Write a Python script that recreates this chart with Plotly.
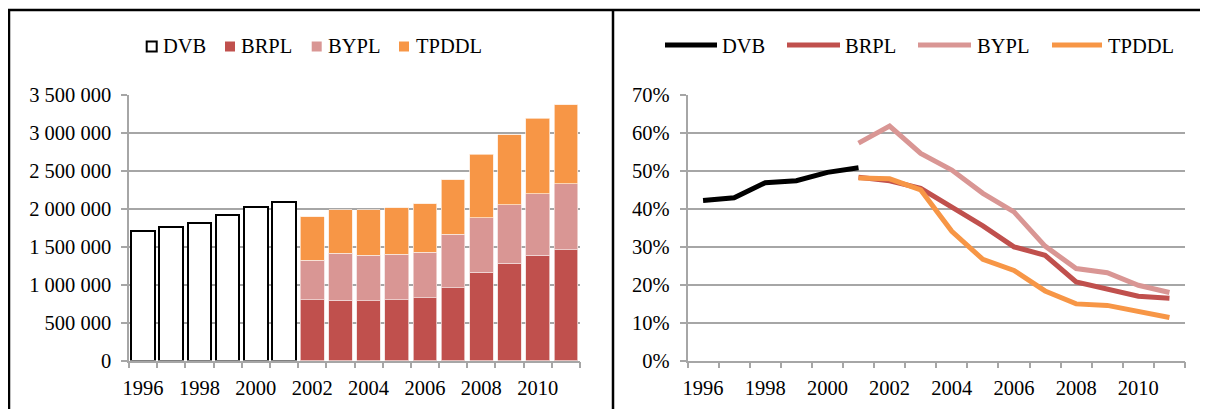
import plotly.graph_objects as go

# ---- data ----
dvb_years = [1996, 1997, 1998, 1999, 2000, 2001]
dvb_consumers = [1708000, 1757000, 1814000, 1920000, 2017000, 2092000]

disc_years = [2002, 2003, 2004, 2005, 2006, 2007, 2008, 2009, 2010, 2011]
brpl_consumers = [801000, 793000, 788000, 801000, 828000, 955000, 1158000, 1277000, 1383000, 1457000]
bypl_consumers = [520000, 620000, 599000, 599000, 599000, 709000, 718000, 775000, 814000, 868000]
tpddl_consumers = [572000, 573000, 594000, 612000, 638000, 714000, 836000, 920000, 991000, 1039000]

dvb_loss = [42.1, 42.8, 46.8, 47.3, 49.5, 50.7]
loss_years = [2001, 2002, 2003, 2004, 2005, 2006, 2007, 2008, 2009, 2010, 2011]
brpl_loss = [48.2, 47.3, 45.3, 40.5, 35.4, 29.9, 27.7, 20.7, 18.9, 16.9, 16.4]
bypl_loss = [57.2, 61.7, 54.5, 50.1, 44.0, 39.1, 30.1, 24.2, 23.1, 19.8, 17.9]
tpddl_loss = [48.0, 47.8, 44.9, 34.0, 26.6, 23.7, 18.3, 14.9, 14.5, 13.0, 11.3]

series_names = ["DVB", "BRPL", "BYPL", "TPDDL"]
tick_years = [1996, 1998, 2000, 2002, 2004, 2006, 2008, 2010]
boundaries = [y - 0.5 for y in range(1996, 2013)]
left_ticks = [0, 500000, 1000000, 1500000, 2000000, 2500000, 3000000, 3500000]
right_ticks = [0, 10, 20, 30, 40, 50, 60, 70]
right_ticktext = [f"{v}%" for v in right_ticks]

# ---- colours ----
C_BRPL = "#C0504D"
C_BYPL = "#D99694"
C_TPDDL = "#F79646"
GRID = "#A6A6A6"
FONT = "Liberation Serif"
FS = 20.5

OFF = 8  # page body margin
W, H = 1200, 401


def px_x(p):
    return (p - OFF) / W


def px_y(p):
    return (H - (p - OFF)) / H


fig = go.Figure()

bar_colors = {"DVB": "white", "BRPL": C_BRPL, "BYPL": C_BYPL, "TPDDL": C_TPDDL}
line_colors = {"DVB": "black", "BRPL": C_BRPL, "BYPL": C_BYPL, "TPDDL": C_TPDDL}

fig.add_trace(go.Bar(x=dvb_years, y=dvb_consumers, name="DVB", xaxis="x", yaxis="y",
                     marker=dict(color="white", line=dict(color="black", width=2))))
fig.add_trace(go.Bar(x=disc_years, y=brpl_consumers, name="BRPL", xaxis="x", yaxis="y",
                     marker=dict(color=C_BRPL, line=dict(color="#F2DCDB", width=0.75))))
fig.add_trace(go.Bar(x=disc_years, y=bypl_consumers, name="BYPL", xaxis="x", yaxis="y",
                     marker=dict(color=C_BYPL, line=dict(color="#F2DCDB", width=0.75))))
fig.add_trace(go.Bar(x=disc_years, y=tpddl_consumers, name="TPDDL", xaxis="x", yaxis="y",
                     marker=dict(color=C_TPDDL, line=dict(color="#FDE9D9", width=0.75))))

for name, xs, ys in [("DVB", dvb_years, dvb_loss),
                     ("BRPL", loss_years, brpl_loss),
                     ("BYPL", loss_years, bypl_loss),
                     ("TPDDL", loss_years, tpddl_loss)]:
    fig.add_trace(go.Scatter(x=xs, y=ys, name=name, mode="lines", xaxis="x2", yaxis="y2",
                             line=dict(color=line_colors[name], width=5)))

ydom = [px_y(360.5), px_y(94.5)]

xcommon = dict(range=[1995.5, 2011.5], tickmode="array", tickvals=tick_years,
               ticktext=[str(t) for t in tick_years], ticks="", showgrid=False,
               showline=True, linecolor=GRID, linewidth=1.5, zeroline=False,
               tickfont=dict(family=FONT, size=FS, color="black"),
               ticklabelstandoff=8,
               minor=dict(tickmode="array", tickvals=boundaries, ticks="outside",
                          ticklen=6, tickcolor=GRID, tickwidth=1.5, showgrid=False),
               automargin=False, fixedrange=True)

ycommon = dict(showgrid=True, gridcolor=GRID, gridwidth=1.5, showline=True,
               linecolor=GRID, linewidth=1.5, ticks="outside", ticklen=6,
               tickcolor=GRID, tickwidth=1.5, zeroline=False,
               tickfont=dict(family=FONT, size=FS, color="black"),
               ticklabelstandoff=6, automargin=False, fixedrange=True)

# ---- legends (drawn as symbols + real text) ----
shapes = []
annotations = []
left_sq_x = [146.7, 225, 311.7, 399]
left_txt_x = [160.5, 239, 325.5, 414]
for name, sx, tx in zip(series_names, left_sq_x, left_txt_x):
    shapes.append(dict(type="rect", xref="paper", yref="paper",
                       x0=px_x(sx), x1=px_x(sx + 10), y0=px_y(51.5), y1=px_y(41.5),
                       fillcolor=bar_colors[name],
                       line=dict(color="black" if name == "DVB" else bar_colors[name],
                                 width=2 if name == "DVB" else 0)))
    annotations.append(dict(text=name, xref="paper", yref="paper", x=px_x(tx), y=px_y(46),
                            xanchor="left", yanchor="middle", showarrow=False,
                            font=dict(family=FONT, size=FS, color="black")))

right_line_x = [(665, 717), (787, 840), (918, 971), (1052, 1102)]
right_txt_x = [720, 843, 975, 1106]
for name, (l0, l1), tx in zip(series_names, right_line_x, right_txt_x):
    shapes.append(dict(type="line", xref="paper", yref="paper",
                       x0=px_x(l0), x1=px_x(l1), y0=px_y(45), y1=px_y(45),
                       line=dict(color=line_colors[name], width=5)))
    annotations.append(dict(text=name, xref="paper", yref="paper", x=px_x(tx), y=px_y(46),
                            xanchor="left", yanchor="middle", showarrow=False,
                            font=dict(family=FONT, size=FS, color="black")))

# ---- frame ----
shapes += [
    dict(type="line", xref="paper", yref="paper", x0=px_x(8), x1=1, y0=px_y(10), y1=px_y(10),
         line=dict(color="black", width=2.5)),
    dict(type="line", xref="paper", yref="paper", x0=px_x(9), x1=px_x(9), y0=0, y1=px_y(10),
         line=dict(color="black", width=2.5)),
    dict(type="line", xref="paper", yref="paper", x0=px_x(613), x1=px_x(613), y0=0, y1=px_y(10),
         line=dict(color="black", width=2.5)),
]

fig.update_layout(
    width=W, height=H,
    margin=dict(l=0, r=0, t=0, b=0),
    paper_bgcolor="white", plot_bgcolor="white",
    barmode="stack", bargap=0.16,
    separators=". ",
    font=dict(family=FONT, size=FS, color="black"),
    showlegend=False,
    xaxis=dict(domain=[px_x(129), px_x(580)], anchor="y", **xcommon),
    xaxis2=dict(domain=[px_x(687.5), px_x(1185)], anchor="y2", **xcommon),
    yaxis=dict(domain=ydom, anchor="x", range=[0, 3500000], tickmode="array",
               tickvals=left_ticks, tickformat=",d", **ycommon),
    yaxis2=dict(domain=ydom, anchor="x2", range=[0, 70], tickmode="array",
                tickvals=right_ticks, ticktext=right_ticktext, **ycommon),
    shapes=shapes,
    annotations=annotations,
)

fig.write_html("out.html")
